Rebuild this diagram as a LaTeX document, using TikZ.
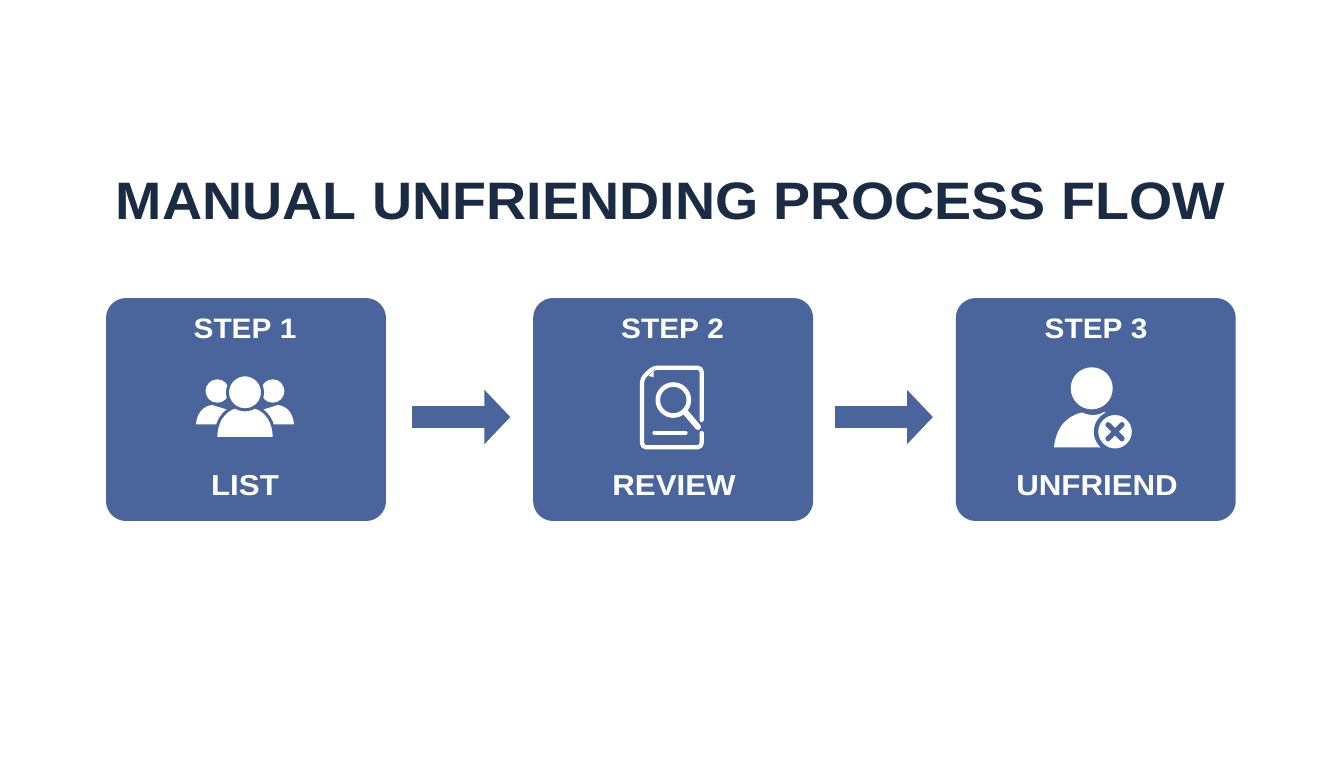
\documentclass[tikz,border=0pt]{standalone}
\usepackage{fontspec}
\setmainfont{Liberation Sans}
\newfontfamily\titlefont[FakeStretch=1.055]{Liberation Sans}
\newfontfamily\stepfont[FakeStretch=1.06]{Liberation Sans}
\newfontfamily\namefont[FakeStretch=1.085]{Liberation Sans}
\usetikzlibrary{arrows.meta,positioning}
\definecolor{boxblue}{HTML}{4A659C}
\definecolor{titleink}{HTML}{1A2B44}
\tikzset{
    stepbox/.style={fill=boxblue, rounded corners=0.4cm, minimum width=5.6cm, minimum height=4.46cm, inner sep=0pt},
    steplabel/.style={text=white, font=\stepfont\fontsize{16}{18}\bfseries\selectfont, inner sep=0pt},
    namelabel/.style={text=white, font=\namefont\fontsize{16.4}{18}\bfseries\selectfont, inner sep=0pt},
    flowarrow/.style={draw=boxblue, line width=12.5pt, -{Triangle[length=14.7pt,width=30pt,fill=boxblue]}},
    iconfill/.style={fill=white, draw=none},
    iconring/.style={fill=white, draw=boxblue, line width=1.7pt},
    iconline/.style={draw=white, line width=2.4pt, line cap=round, line join=round}
}
\begin{document}
\begin{tikzpicture}[x=0.02cm,y=-0.02cm]
    \useasboundingbox[fill=white] (0,0) rectangle (1344,768);
    \node[text=titleink, font=\titlefont\fontsize{30}{36}\bfseries\selectfont, inner sep=0pt] (title) at (670.5,201.5) {MANUAL UNFRIENDING PROCESS FLOW};
    % boxes
    \node[stepbox] (listbox) at (246,409.5) {};
    \node[stepbox, right=2.93cm of listbox] (reviewbox) {};
    \node[stepbox, right=2.84cm of reviewbox] (unfriendbox) {};
    % arrows
    \draw[flowarrow, shorten <=14.7pt, shorten >=12.8pt] ([yshift=-0.15cm]listbox.east) -- ([yshift=-0.15cm]reviewbox.west);
    \draw[flowarrow, shorten <=12.3pt, shorten >=12.8pt] ([yshift=-0.15cm]reviewbox.east) -- ([yshift=-0.15cm]unfriendbox.west);
    % labels
    \node[steplabel] (stepone) at (245,329) {STEP 1};
    \node[steplabel] (steptwo) at (672.5,329) {STEP 2};
    \node[steplabel] (stepthree) at (1096,329) {STEP 3};
    \node[namelabel] (listlabel) at (245,486) {LIST};
    \node[namelabel] (reviewlabel) at (674,486) {REVIEW};
    \node[namelabel] (unfriendlabel) at (1097,486) {UNFRIEND};
    % group icon
    \fill[iconfill] (217.3,391) circle (11.7);
    \fill[iconfill] (272.7,391) circle (11.7);
    \fill[iconfill] (196,424.3) .. controls (197,412) and (204,406) .. (212,405) -- (235,412) -- (217,424.3) -- cycle;
    \fill[iconfill] (294,424.3) .. controls (293,412) and (286,406) .. (278,405) -- (255,412) -- (273,424.3) -- cycle;
    \path[iconring] (216,438.5) .. controls (215,422) and (224,410) .. (235,407) -- (255,407) .. controls (266,410) and (275,422) .. (274,438.5) -- cycle;
    \path[iconring] (245,392.3) circle (17.5);
    % document icon
    \draw[iconline, rounded corners=2.4pt] (701.7,420) -- (701.7,367.7) -- (653.3,367.7) -- (642,378.3) -- (642,447.3) -- (701.7,447.3) -- (701.7,433);
    \fill[iconfill] (648.5,376) -- (653.5,371) -- (653.5,377) -- cycle;
    \draw[iconline, line width=2.6pt] (673.3,400) circle (15.5);
    \draw[iconline, line width=3.4pt] (685,411.7) -- (698,427);
    \draw[iconline] (654.5,432.7) -- (685.5,432.7);
    % unfriend icon
    \fill[iconfill] (1054,447.3) .. controls (1056,428) and (1066,416) .. (1082,412.5) .. controls (1090,416) and (1098,416) .. (1104,412) .. controls (1118,416) and (1120,430) .. (1120,447.3) -- cycle;
    \fill[boxblue] (1091.7,388.3) circle (24);
    \fill[iconfill] (1091.7,388.3) circle (21);
    \path[iconring, line width=2.5pt] (1115,431.7) circle (19);
    \draw[draw=boxblue, line width=3pt, line cap=round] (1108,424.7) -- (1122,438.7) (1122,424.7) -- (1108,438.7);
\end{tikzpicture}
\end{document}
